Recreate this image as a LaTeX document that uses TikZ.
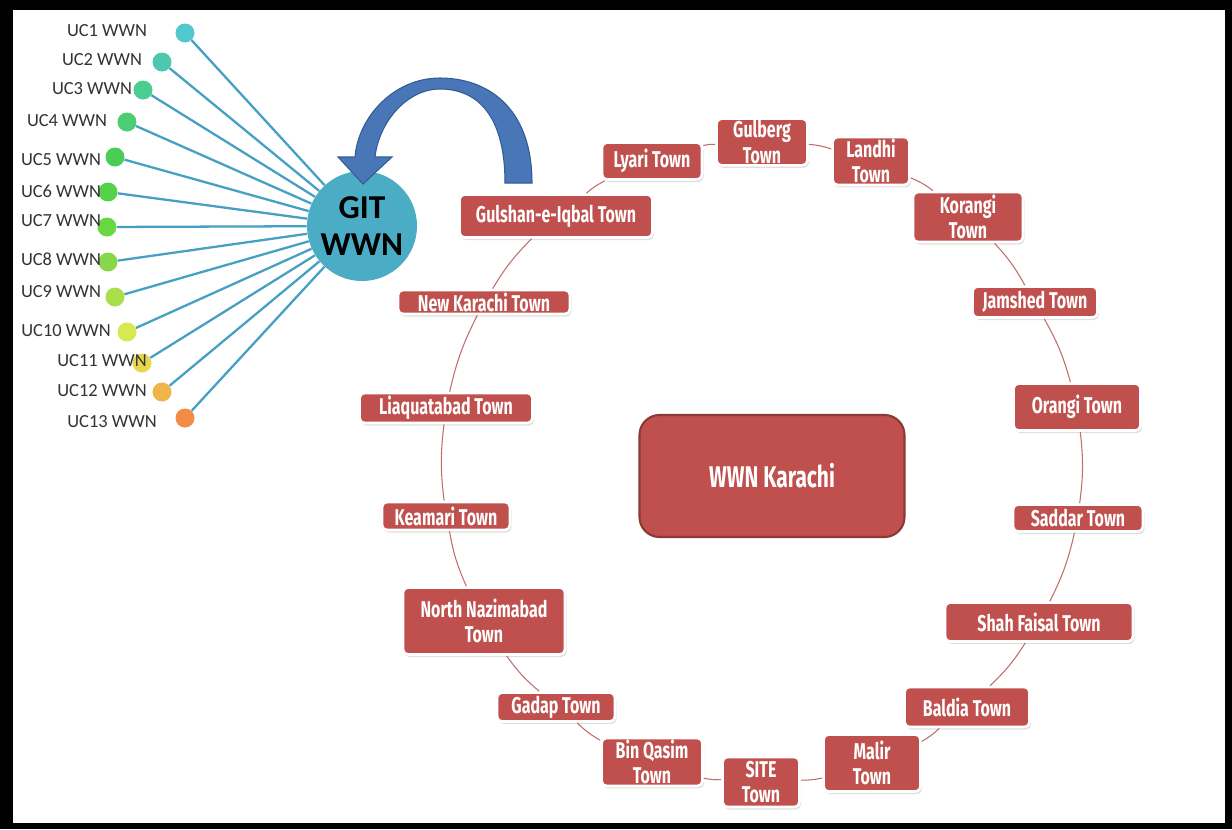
\documentclass[tikz,border=0pt]{standalone}
\usepackage{fontspec}
\setmainfont{Carlito}
\newfontfamily\townfont[FakeStretch=0.7]{Fira Sans}
\usetikzlibrary{shadows}

\definecolor{townred}{RGB}{192,80,77}
\definecolor{hubedge}{RGB}{140,56,54}
\definecolor{ringline}{RGB}{190,110,108}
\definecolor{gitblue}{RGB}{75,172,198}
\definecolor{spoke}{RGB}{70,160,195}
\definecolor{arrowblue}{RGB}{72,118,182}
\definecolor{arrowedge}{RGB}{52,92,148}
\definecolor{uc1}{RGB}{80,200,205}
\definecolor{uc2}{RGB}{75,200,175}
\definecolor{uc3}{RGB}{75,205,145}
\definecolor{uc4}{RGB}{75,205,115}
\definecolor{uc5}{RGB}{75,205,85}
\definecolor{uc6}{RGB}{85,210,70}
\definecolor{uc7}{RGB}{105,215,65}
\definecolor{uc8}{RGB}{135,215,75}
\definecolor{uc9}{RGB}{170,222,75}
\definecolor{uc10}{RGB}{215,232,80}
\definecolor{uc11}{RGB}{232,215,75}
\definecolor{uc12}{RGB}{240,180,75}
\definecolor{uc13}{RGB}{240,140,70}

\tikzset{
  town/.style={rectangle, rounded corners=1mm, fill=townred, draw=white,
    line width=1.5pt, text=white, align=center, inner sep=1pt,
    font=\townfont\bfseries\fontsize{13}{14.5}\selectfont,
    drop shadow={shadow xshift=0.3mm, shadow yshift=-0.5mm, opacity=0.25}},
  hub/.style={rectangle, rounded corners=4mm, fill=townred, draw=hubedge,
    line width=1.2pt, text=white, font=\townfont\bfseries\fontsize{17}{19}\selectfont},
  gitnode/.style={circle, fill=gitblue, minimum size=22mm, inner sep=0pt,
    align=center, font=\bfseries\fontsize{19}{21}\selectfont},
  ucdot/.style={circle, minimum size=3.8mm, inner sep=0pt},
  uclabel/.style={text=black!80, inner sep=0pt, font=\fontsize{10.5}{12}\selectfont},
  spokeline/.style={draw=spoke, line width=1.3pt},
  ringline/.style={draw=ringline, line width=0.6pt},
}

\begin{document}
\begin{tikzpicture}[x=0.2mm, y=-0.2mm]
\useasboundingbox (0,0) rectangle (1232,829);
\fill[black] (0,0) rectangle (1232,829);
\fill[white] (13,10) rectangle (1225,823);

% GIT WWN with its union councils
\node[gitnode] (git) at (362,226) {GIT\\WWN};
\foreach \i/\x/\y/\lx/\ly in {1/185/33/107/31, 2/162/62/102/60, 3/143/90/92/89,
    4/127/122/67/121, 5/115/157/61/160, 6/108/192/61/191, 7/107/227/61/221,
    8/108/262/61/259, 9/115/297/61/292, 10/127/332/66/331, 11/142/363/102/361,
    12/162/392/102/391, 13/185/418/112/422} {
  \node[ucdot, fill=uc\i] (uc\i) at (\x,\y) {};
  \draw[spokeline] (uc\i) -- (git);
  \node[uclabel] (uclab\i) at (\lx,\ly) {UC\i{} WWN};
}

% curved arrow
\fill[arrowblue, draw=arrowedge, line width=0.6pt]
  (532,183) .. controls (532,105) and (485,78) .. (440,78)
  .. controls (393,78) and (358,118) .. (355,157) -- (338,157) -- (363,184)
  -- (392,157) -- (375,157) .. controls (379,122) and (407,89) .. (440,89)
  .. controls (477,89) and (505,115) .. (505,183) -- cycle;

% hub
\node[hub, minimum width=53mm, minimum height=24.4mm] (karachi) at (772,476) {WWN Karachi};

% towns
\node[town, minimum width=18.2mm, minimum height=9mm] (gulberg) at (762,142) {Gulberg\\Town};
\node[town, minimum width=15.4mm, minimum height=9.2mm] (landhi) at (871,161) {Landhi\\Town};
\node[town, minimum width=22mm, minimum height=10mm] (korangi) at (968,217) {Korangi\\Town};
\node[town, minimum width=25mm, minimum height=6.2mm] (jamshed) at (1035,302) {Jamshed Town};
\node[town, minimum width=25.4mm, minimum height=9.4mm] (orangi) at (1077,407) {Orangi Town};
\node[town, minimum width=26mm, minimum height=5.4mm] (saddar) at (1078,518) {Saddar Town};
\node[town, minimum width=37.6mm, minimum height=7.8mm] (shahfaisal) at (1039,622) {Shah Faisal Town};
\node[town, minimum width=25mm, minimum height=8mm] (baldia) at (967,707) {Baldia Town};
\node[town, minimum width=19.4mm, minimum height=11.4mm] (malir) at (872,763) {Malir\\Town};
\node[town, minimum width=15.4mm, minimum height=10mm] (site) at (761,782) {SITE\\Town};
\node[town, minimum width=20.2mm, minimum height=9mm] (binqasim) at (652,762) {Bin Qasim\\Town};
\node[town, minimum width=23.6mm, minimum height=5.8mm] (gadap) at (556,707) {Gadap Town};
\node[town, minimum width=32.4mm, minimum height=13.4mm] (northnazimabad) at (484,621) {North Nazimabad\\Town};
\node[town, minimum width=25.6mm, minimum height=5.6mm] (keamari) at (446,516) {Keamari Town};
\node[town, minimum width=34.6mm, minimum height=6mm] (liaquatabad) at (446,408) {Liaquatabad Town};
\node[town, minimum width=34.4mm, minimum height=4.8mm] (newkarachi) at (484,302) {New Karachi Town};
\node[town, minimum width=38.6mm, minimum height=8.6mm] (gulshan) at (556,216) {Gulshan-e-Iqbal Town};
\node[town, minimum width=20mm, minimum height=7.4mm] (lyari) at (652,161) {Lyari Town};

% ring of towns
\foreach \a/\b in {gulshan/newkarachi, newkarachi/liaquatabad, liaquatabad/keamari,
    keamari/northnazimabad, northnazimabad/gadap, gadap/binqasim, binqasim/site,
    site/malir, malir/baldia, baldia/shahfaisal, shahfaisal/saddar, saddar/orangi,
    orangi/jamshed, jamshed/korangi, korangi/landhi, landhi/gulberg,
    gulberg/lyari, lyari/gulshan}
  \draw[ringline] (\a) to[bend right=7] (\b);
\end{tikzpicture}
\end{document}
